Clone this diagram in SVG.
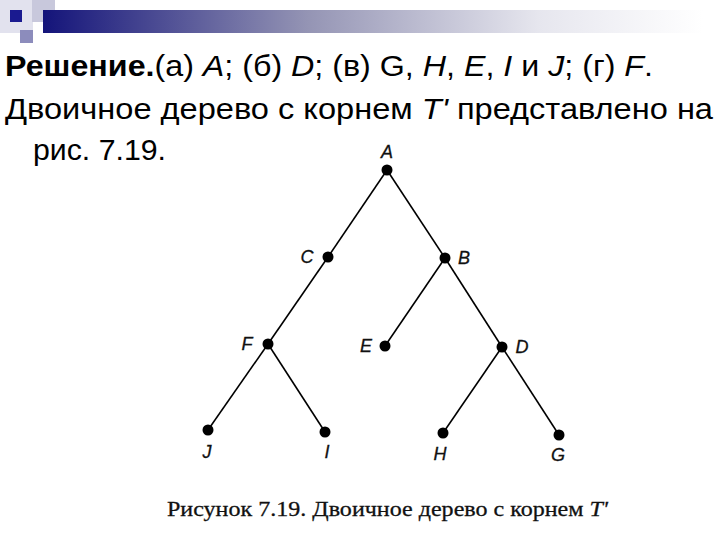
<svg xmlns="http://www.w3.org/2000/svg" width="720" height="540" viewBox="0 0 720 540">
<defs>
<linearGradient id="bar" x1="0" y1="0" x2="1" y2="0">
<stop offset="0" stop-color="#14147a"/>
<stop offset="0.4" stop-color="#9494b4"/>
<stop offset="0.75" stop-color="#e6e6ee"/>
<stop offset="1" stop-color="#ffffff"/>
</linearGradient>
<style>
.t{font-family:"Liberation Sans",Arial,sans-serif;font-size:30px;fill:#000}
.b{font-weight:bold}
.i{font-style:italic}
.edge{stroke:#000;stroke-width:1.6;fill:none}
.dot{fill:#000}
.lbl{font-family:"Liberation Sans",Arial,sans-serif;font-style:italic;font-size:18px;fill:#111;stroke:#111;stroke-width:0.3;text-anchor:middle}
.cap{font-family:"Liberation Serif","Times New Roman",serif;font-size:22px;fill:#111;stroke:#111;stroke-width:0.3}
</style>
</defs>
<rect width="720" height="540" fill="#fff"/>
<g id="header">
<rect x="0" y="0" width="33" height="33" fill="#e2e2ee"/>
<rect x="32" y="0" width="23" height="22" fill="#c8c8dc"/>
<rect x="43" y="10" width="660" height="23" fill="url(#bar)"/>
<rect x="10" y="10" width="12" height="12" fill="#1a1a90"/>
<rect x="20" y="30" width="13" height="13" fill="#8c8cbc"/>
</g>
<g id="text">
<text class="t" x="5" y="76" textLength="648" lengthAdjust="spacingAndGlyphs"><tspan class="b">Решение.</tspan>(а) <tspan class="i">A</tspan>; (б) <tspan class="i">D</tspan>; (в) G, <tspan class="i">H</tspan>, <tspan class="i">E</tspan>, <tspan class="i">I</tspan> и <tspan class="i">J</tspan>; (г) <tspan class="i">F</tspan>.</text>
<text class="t" x="5" y="119" textLength="708" lengthAdjust="spacingAndGlyphs">Двоичное дерево с корнем <tspan class="i">T'</tspan> представлено на</text>
<text class="t" x="33" y="160" textLength="133" lengthAdjust="spacingAndGlyphs">рис. 7.19.</text>
</g>
<g id="connectors">
<line class="edge" x1="387" y1="170" x2="328" y2="257"/>
<line class="edge" x1="387" y1="170" x2="445" y2="258"/>
<line class="edge" x1="328" y1="257" x2="268" y2="344"/>
<line class="edge" x1="445" y1="258" x2="385" y2="346"/>
<line class="edge" x1="445" y1="258" x2="502" y2="347"/>
<line class="edge" x1="268" y1="344" x2="208" y2="430"/>
<line class="edge" x1="268" y1="344" x2="325" y2="432"/>
<line class="edge" x1="502" y1="347" x2="443" y2="433"/>
<line class="edge" x1="502" y1="347" x2="559" y2="435"/>
</g>
<g id="node-A"><circle class="dot" cx="387" cy="170" r="5.5"/><text class="lbl" x="387" y="158">A</text></g>
<g id="node-C"><circle class="dot" cx="328" cy="257" r="5.5"/><text class="lbl" x="307" y="263">C</text></g>
<g id="node-B"><circle class="dot" cx="445" cy="258" r="5.5"/><text class="lbl" x="464" y="264">B</text></g>
<g id="node-F"><circle class="dot" cx="268" cy="344" r="5.5"/><text class="lbl" x="247" y="350">F</text></g>
<g id="node-E"><circle class="dot" cx="385" cy="346" r="5.5"/><text class="lbl" x="366" y="352">E</text></g>
<g id="node-D"><circle class="dot" cx="502" cy="347" r="5.5"/><text class="lbl" x="522" y="353">D</text></g>
<g id="node-J"><circle class="dot" cx="208" cy="430" r="5.5"/><text class="lbl" x="207" y="458">J</text></g>
<g id="node-I"><circle class="dot" cx="325" cy="432" r="5.5"/><text class="lbl" x="327" y="458">I</text></g>
<g id="node-H"><circle class="dot" cx="443" cy="433" r="5.5"/><text class="lbl" x="440" y="460">H</text></g>
<g id="node-G"><circle class="dot" cx="559" cy="435" r="5.5"/><text class="lbl" x="558" y="461">G</text></g>
<text class="cap" x="167" y="516" textLength="441" lengthAdjust="spacingAndGlyphs">Рисунок 7.19. Двоичное дерево с корнем <tspan font-style="italic">T'</tspan></text>
</svg>
